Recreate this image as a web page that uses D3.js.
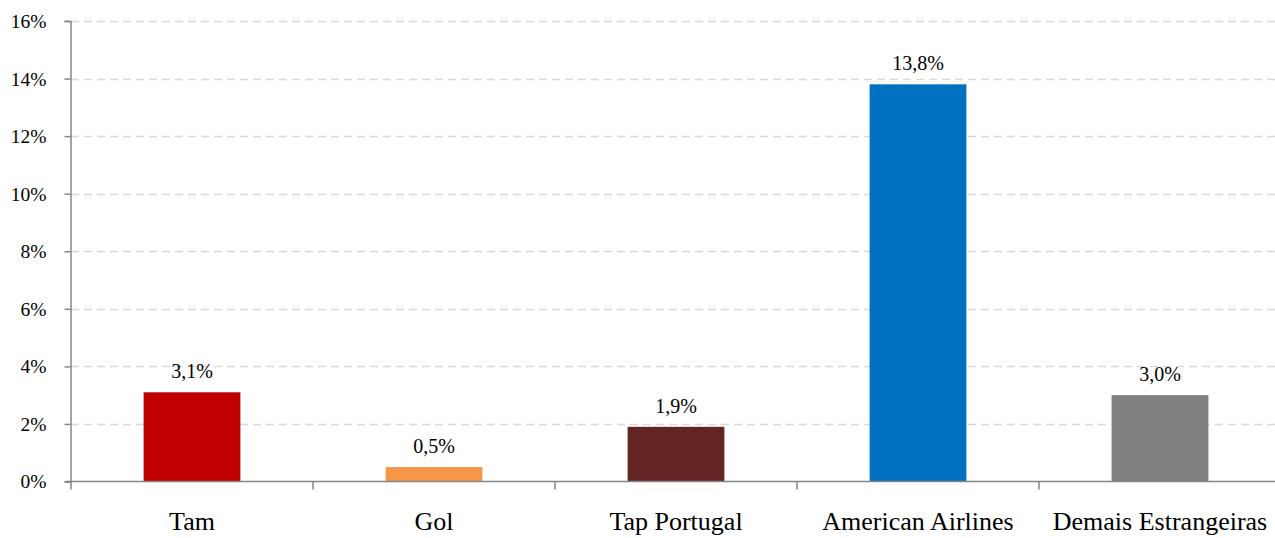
<!DOCTYPE html>
<html><head><meta charset="utf-8">
<script src="https://cdn.jsdelivr.net/npm/d3@7"></script>
<style>body{margin:0;background:#fff}svg{display:block}text{font-family:"Liberation Serif","Times New Roman",serif;fill:#000}</style>
</head><body>
<svg id="c" width="1275" height="538"></svg>
<script>
const categories = ["Tam","Gol","Tap Portugal","American Airlines","Demais Estrangeiras"];
const values = [3.1, 0.5, 1.9, 13.8, 3.0];
const colors = ["#C00000","#F79646","#632523","#0070C0","#808080"];
const yTicks = [0,2,4,6,8,10,12,14,16];

const svg = d3.select("#c");
const x0 = 71, x1 = 1281, yTop = 21, yBot = 481.5;
const x = d3.scaleBand().domain(categories).range([x0, x1]).paddingInner(0.6).paddingOuter(0.3);
const y = d3.scaleLinear().domain([0,16]).range([yBot, yTop]);

// gridlines
svg.append("g").selectAll("line").data(yTicks.filter(d=>d>0)).join("line")
  .attr("x1", x0).attr("x2", x1)
  .attr("y1", d=>Math.round(y(d))+0.5).attr("y2", d=>Math.round(y(d))+0.5)
  .attr("stroke","#d9d9d9").attr("stroke-width",1.3).attr("stroke-dasharray","8,5");

// bars
svg.append("g").selectAll("rect").data(categories).join("rect")
  .attr("x", d=>x(d)).attr("width", x.bandwidth())
  .attr("y", (d,i)=>y(values[i])).attr("height", (d,i)=>yBot - y(values[i]))
  .attr("fill", (d,i)=>colors[i]);

// value labels
svg.append("g").selectAll("text").data(categories).join("text")
  .attr("x", d=>x(d)+x.bandwidth()/2).attr("y", (d,i)=>y(values[i]) - 14)
  .attr("text-anchor","middle").style("font-size","20px")
  .text((d,i)=>values[i].toFixed(1).replace(".",",")+"%");

// y axis
const yAxis = d3.axisLeft(y).tickValues(yTicks).tickSize(6).tickFormat(d=>d+"%");
const gy = svg.append("g").attr("transform",`translate(${x0-0.5},0)`).call(yAxis)
  .attr("font-size", null).attr("font-family", null);
gy.select(".domain").attr("stroke","#868686").attr("stroke-width",1.5);
gy.selectAll(".tick line").attr("stroke","#868686").attr("stroke-width",1.5);
gy.selectAll(".tick text").style("font-size","19.5px").attr("x",-24).attr("dy","0.33em");

// x axis
svg.append("line").attr("x1",x0-6).attr("x2",x1).attr("y1",yBot).attr("y2",yBot)
  .attr("stroke","#868686").attr("stroke-width",1.5);
const bounds = categories.map(c=>x(c)-x.step()*x.paddingInner()/2).concat([x1]);
svg.append("g").selectAll("line").data(bounds).join("line")
  .attr("x1",d=>d).attr("x2",d=>d).attr("y1",yBot).attr("y2",yBot+8)
  .attr("stroke","#868686").attr("stroke-width",1.5);
svg.append("g").selectAll("text").data(categories).join("text")
  .attr("x", d=>x(d)+x.bandwidth()/2).attr("y", 530)
  .attr("text-anchor","middle").style("font-size","26px").text(d=>d);
</script>
</body></html>
